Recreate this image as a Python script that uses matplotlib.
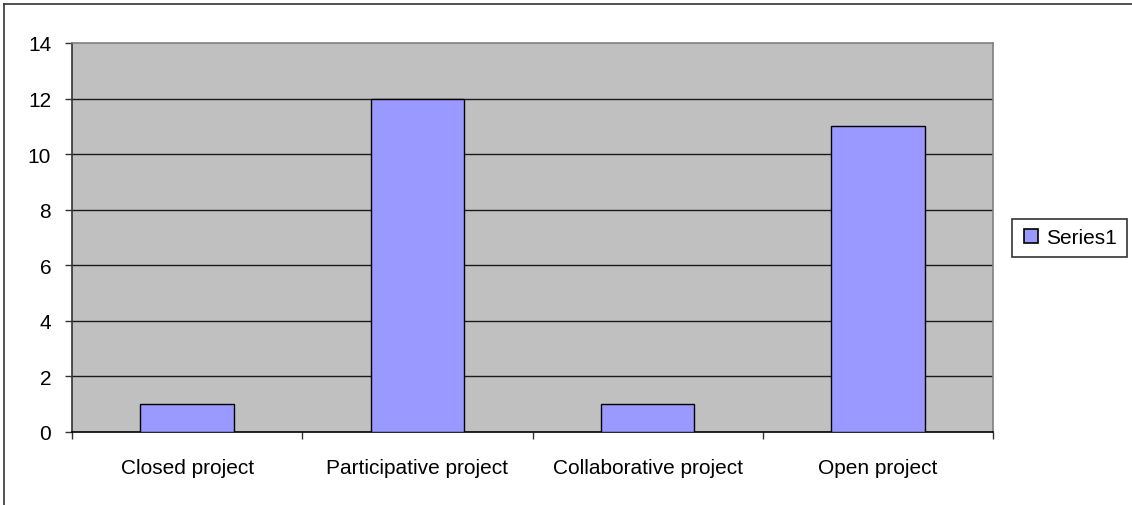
import matplotlib

matplotlib.use("Agg")
import matplotlib.pyplot as plt
from matplotlib.lines import Line2D
import numpy as np

categories = ["Closed project", "Participative project", "Collaborative project", "Open project"]
values = [1, 12, 1, 11]
series_name = "Series1"
y_ticks = [0, 2, 4, 6, 8, 10, 12, 14]

plt.rcParams["font.family"] = ["Liberation Sans", "DejaVu Sans"]
FS = 15

fig = plt.figure(figsize=(11.32, 5.06), dpi=100)
W, H = 1132, 506

# plot area in pixels: left, top, right, bottom
L, T, R, B = 72, 44, 993, 433
ax = fig.add_axes([L / W, 1 - B / H, (R - L) / W, (B - T) / H])
ax.set_facecolor("#C0C0C0")

x = np.arange(len(categories))
ax.bar(x, values, width=0.405, color="#9999FF", edgecolor="black", linewidth=1.0, zorder=3)

ax.set_xlim(-0.5, len(categories) - 0.5)
ax.set_ylim(0, 14)

# gridlines
for v in y_ticks[1:-1]:
    ax.axhline(v, color="#1a1a1a", linewidth=1.0, zorder=1)

ax.set_yticks(y_ticks)
ax.set_yticklabels([str(v) for v in y_ticks], fontsize=FS)
ax.set_xticks(np.arange(len(categories) + 1) - 0.5)
ax.set_xticklabels([])
ax.set_xticks(x, minor=True)
ax.set_xticklabels(categories, minor=True, fontsize=FS)
ax.tick_params(axis="x", which="minor", length=0, pad=19)
ax.tick_params(axis="x", which="major", length=5, width=1, color="#333333", direction="out")
ax.tick_params(axis="y", length=5, width=1, color="#333333", direction="out", pad=10)

ax.spines["left"].set_color("#333333")
ax.spines["bottom"].set_color("black")
ax.spines["top"].set_color("#808080")
ax.spines["right"].set_color("#808080")
for s in ax.spines.values():
    s.set_linewidth(1.2)

handle = Line2D([], [], marker="s", linestyle="none", markersize=10,
                markerfacecolor="#9999FF", markeredgecolor="black", markeredgewidth=1.2)
leg = fig.legend([handle], [series_name], loc="upper left",
                 bbox_to_anchor=(1012 / W, 1 - 220 / H), fontsize=FS,
                 frameon=True, fancybox=False, edgecolor="black",
                 handletextpad=0.3, borderpad=0.45, handlelength=0.9,
                 borderaxespad=0)
leg.get_frame().set_linewidth(1.2)

# outer chart border (left and top edges)
fig.add_artist(Line2D([4 / W, 4 / W], [0, 1 - 5 / H], color="#333333", linewidth=1.2))
fig.add_artist(Line2D([4 / W, 1], [1 - 5 / H, 1 - 5 / H], color="#333333", linewidth=1.2))

fig.savefig("out.png", dpi=100)
